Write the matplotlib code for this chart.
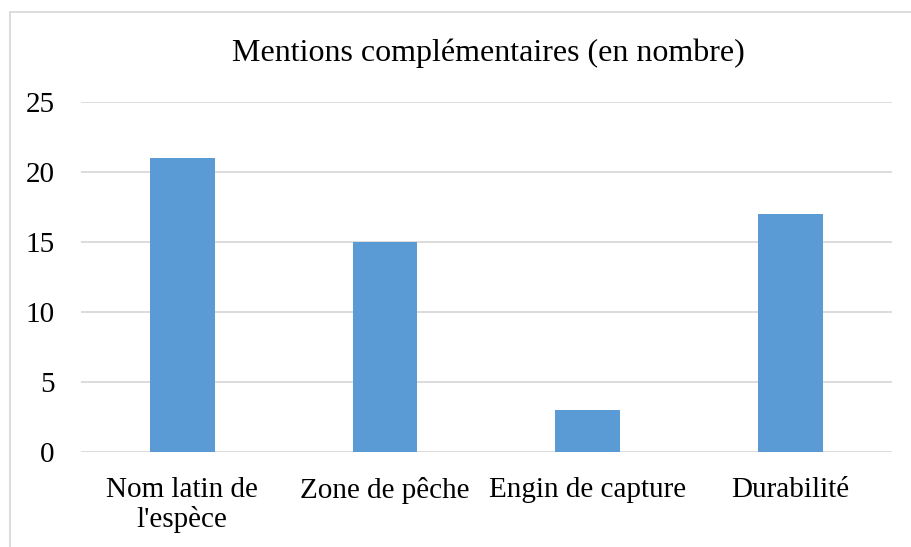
import matplotlib.pyplot as plt
import numpy as np
from matplotlib.patches import Rectangle

plt.rcParams['font.family'] = ['Liberation Serif', 'DejaVu Serif']

# Data
categories = ["Nom latin de\nl'espèce", "Zone de pêche", "Engin de capture", "Durabilité"]
values = [21, 15, 3, 17]
yticks = [0, 5, 10, 15, 20, 25]

bar_color = '#5B9BD5'
grid_color = '#D9D9D9'

fig = plt.figure(figsize=(9.12, 5.47), dpi=100)
ax = fig.add_axes([0.0888, 0.1737, 0.889, 0.6398])

x = np.arange(len(categories))
ax.bar(x, values, width=0.32, color=bar_color, zorder=3)

ax.set_xlim(-0.5, len(categories) - 0.5)
ax.set_ylim(0, 25)
ax.set_yticks(yticks)
ax.set_xticks(x)
ax.set_xticklabels(categories, fontsize=21, linespacing=1.15)
ax.tick_params(axis='y', labelsize=21, length=0, pad=19)
ax.tick_params(axis='x', length=0, pad=18)

ax.grid(axis='y', color=grid_color, linewidth=1.3, zorder=0)
for s in ax.spines.values():
    s.set_visible(False)

fig.text(0.5355, 0.902, "Mentions complémentaires (en nombre)", ha='center', va='center', fontsize=23)

# chart border (light grey, left and top visible)
fig.patches.append(Rectangle((10 / 912, -0.05), 1.1, 1 - 12 / 547 + 0.05,
                             transform=fig.transFigure, fill=False,
                             edgecolor='#D9D9D9', linewidth=1.3))

fig.savefig('out.png', dpi=100)
